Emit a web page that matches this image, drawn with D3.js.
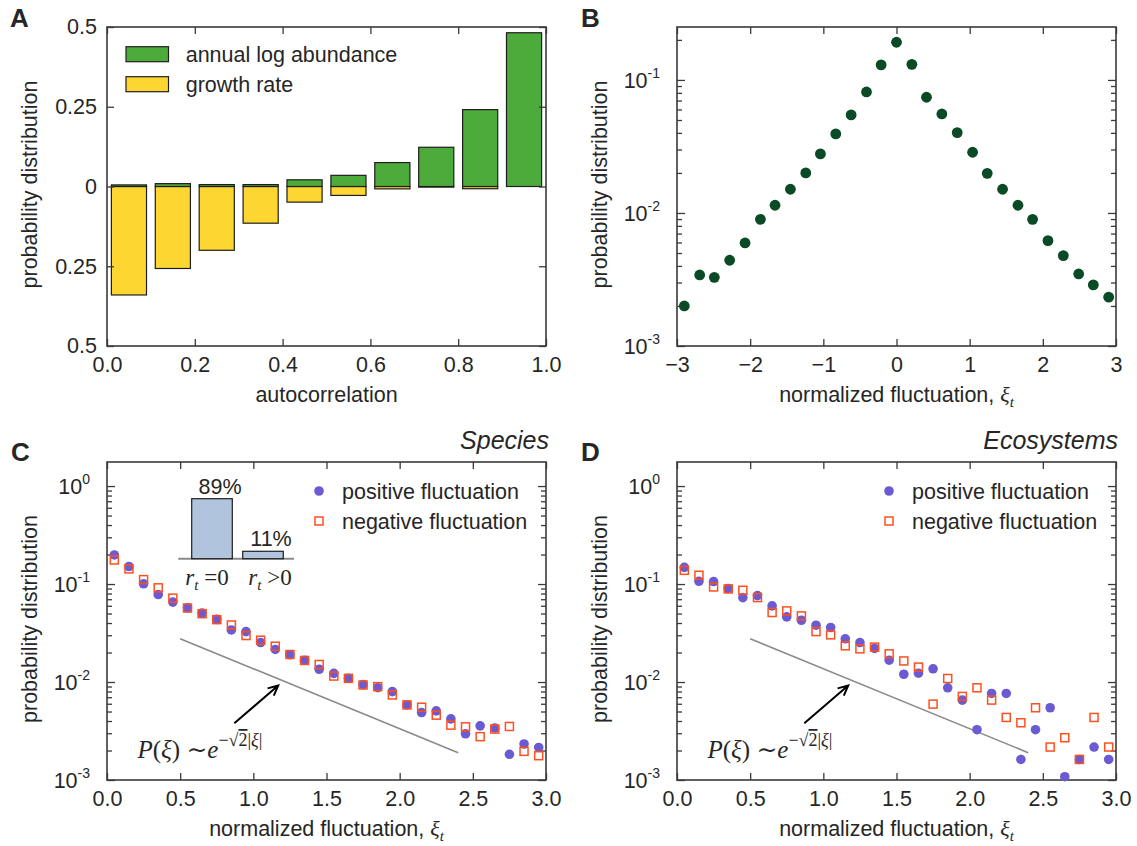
<!DOCTYPE html>
<html><head><meta charset="utf-8">
<script src="https://cdn.jsdelivr.net/npm/d3@7"></script>
<style>body{margin:0;background:#fff}</style>
</head><body>
<script>
// ---------------- data ----------------
const autocorrBins = [0.05,0.15,0.25,0.35,0.45,0.55,0.65,0.75,0.85,0.95];
const logAbundanceDist = [0.005,0.009,0.006,0.006,0.021,0.035,0.075,0.123,0.241,0.482];
const growthRateDist = [0.34,0.257,0.20,0.115,0.049,0.028,0.0075,0.002,0.007,0.0];
const yTicksA = [-0.5,-0.25,0,0.25,0.5];
const yTickLabelsA = ["0.5","0.25","0","0.25","0.5"];
const xTicksA = [0,0.2,0.4,0.6,0.8,1.0];
const xTickLabelsA = ["0.0","0.2","0.4","0.6","0.8","1.0"];
const legendA = ["annual log abundance","growth rate"];

const fluctB = [-2.9,-2.69,-2.49,-2.28,-2.07,-1.86,-1.66,-1.45,-1.24,-1.04,-0.83,-0.62,-0.41,-0.21,0,0.21,0.41,0.62,0.83,1.04,1.24,1.45,1.66,1.86,2.07,2.28,2.49,2.69,2.9];
const probB = [0.0020,0.00342,0.00328,0.00441,0.00595,0.00896,0.01143,0.01507,0.0200,0.0278,0.0393,0.0546,0.0812,0.1297,0.192,0.131,0.0741,0.0555,0.0402,0.0286,0.01986,0.01507,0.01143,0.00896,0.00619,0.00478,0.00348,0.00288,0.00233];
const xTicksB = [-3,-2,-1,0,1,2,3];
const xTickLabelsB = ["\u22123","\u22122","\u22121","0","1","2","3"];
const logExpB = [-3,-2,-1];

const fluctCD = [0.05,0.15,0.25,0.35,0.45,0.55,0.65,0.75,0.85,0.95,1.05,1.15,1.25,1.35,1.45,1.55,1.65,1.75,1.85,1.95,2.05,2.15,2.25,2.35,2.45,2.55,2.65,2.75,2.85,2.95];
const speciesPos = [0.198,0.151,0.1005,0.0782,0.0654,0.0573,0.0506,0.0436,0.0340,0.0327,0.0253,0.0215,0.0190,0.0167,0.0135,0.01225,0.0109,0.0094,0.00875,0.00797,0.00584,0.00488,0.00508,0.00421,0.00296,0.00357,0.00339,0.00183,0.00233,0.00215];
const speciesNeg = [0.176,0.1426,0.111,0.0915,0.0718,0.0569,0.0498,0.0433,0.0382,0.0298,0.0267,0.0232,0.0191,0.0166,0.0151,0.0115,0.0109,0.00933,0.00897,0.00738,0.00584,0.00553,0.00459,0.00363,0.00349,0.00277,0.00331,0.00352,0.00196,0.00177];
const ecoPos = [0.148,0.1067,0.106,0.0898,0.0727,0.0762,0.0598,0.0462,0.0427,0.0380,0.0360,0.0276,0.0253,0.0220,0.0167,0.0120,0.0123,0.01364,0.00873,0.00654,0.00326,0.00764,0.00764,0.00162,0.00326,0.00546,0.00108,0.00162,0.00217,0.00162];
const ecoNeg = [0.138,0.123,0.0934,0.0891,0.0864,0.0727,0.0512,0.0532,0.0473,0.0327,0.0303,0.0234,0.0218,0.0227,0.0194,0.0164,0.0142,0.00595,0.01086,0.00713,0.00873,0.00654,0.00435,0.00384,0.00546,0.00217,0.0027,0.00162,0.00435,0.00217];
const xTicksCD = [0,0.5,1,1.5,2,2.5,3];
const xTickLabelsCD = ["0.0","0.5","1.0","1.5","2.0","2.5","3.0"];
const logExpCD = [-3,-2,-1,0];
const legendCD = ["positive fluctuation","negative fluctuation"];

const insetCats = ["r_t=0","r_t>0"];
const insetVals = [0.89,0.11];
const insetLabels = ["89%","11%"];

const refLineX = [0.5,2.4];
const refLineY = [0.0277,0.0019];
const arrowX = [0.87,1.17];
const arrowY = [0.0038,0.0092];

// ---------------- style ----------------
const W=1137,H=846;
const SANS='"Liberation Sans", Arial, Helvetica, sans-serif';
const SERIF='"Liberation Serif","DejaVu Serif","Times New Roman",serif';
const TXT='#262626', AX='#3a3a3a';
const FS=21.5;
const GREEN='#4dab3c', YELLOW='#fed631', DKGREEN='#0b4a26', PURPLE='#6a5bd3', ORANGE='#ff4f1f';

const svg=d3.select('body').append('svg').attr('width',W).attr('height',H)
  .style('font-family',SANS);

function styleAxis(g){
  g.attr('font-size',null).attr('font-family',null);
  g.select('.domain').remove();
  g.selectAll('line').attr('stroke',AX).attr('stroke-width',1.3);
  g.selectAll('text').attr('fill',TXT).style('font-size',FS+'px').style('font-family',SANS);
}

function frame(x,y,opt){
  const [x0,x1]=x.range(), [y1,y0]=y.range();
  const g=svg.append('g');
  const bx=g.append('g').attr('transform',`translate(0,${y1})`)
    .call(d3.axisBottom(x).tickValues(opt.xTicks).tickSize(-7).tickPadding(11).tickFormat((d,i)=>opt.xLabels[i]));
  styleAxis(bx);
  const tx=g.append('g').attr('transform',`translate(0,${y0})`)
    .call(d3.axisTop(x).tickValues(opt.xTicks).tickSize(-7).tickFormat(''));
  styleAxis(tx);
  if(!opt.log){
    const ly=g.append('g').attr('transform',`translate(${x0},0)`)
      .call(d3.axisLeft(y).tickValues(opt.yTicks).tickSize(-7).tickPadding(10).tickFormat((d,i)=>opt.yLabels[i]));
    styleAxis(ly);
    const ry=g.append('g').attr('transform',`translate(${x1},0)`)
      .call(d3.axisRight(y).tickValues(opt.yTicks).tickSize(-7).tickFormat(''));
    styleAxis(ry);
  } else {
    const dom=y.domain();
    const majors=opt.exps.map(e=>Math.pow(10,e));
    const minors=[];
    for(let e=-4;e<=1;e++) for(let m=2;m<=9;m++){const v=m*Math.pow(10,e); if(v>=dom[0]&&v<=dom[1]) minors.push(v);}
    [[d3.axisLeft,x0],[d3.axisRight,x1]].forEach(([ax,px])=>{
      const a=g.append('g').attr('transform',`translate(${px},0)`).call(ax(y).tickValues(majors).tickSize(-8).tickFormat(''));
      styleAxis(a);
      const b=g.append('g').attr('transform',`translate(${px},0)`).call(ax(y).tickValues(minors).tickSize(-5).tickFormat(''));
      styleAxis(b);
    });
    opt.exps.forEach(e=>{
      const t=g.append('text').attr('x',x0-17).attr('y',y(Math.pow(10,e))).attr('dy','0.36em')
        .attr('text-anchor','end').attr('fill',TXT).style('font-size',FS+'px').text('10');
      t.append('tspan').attr('dy',-9.5).style('font-size','14px').text(String(e));
    });
  }
  g.append('rect').attr('x',x0).attr('y',y0).attr('width',x1-x0).attr('height',y1-y0)
    .attr('fill','none').attr('stroke',AX).attr('stroke-width',1.6);
  // y label
  g.append('text').attr('transform',`translate(${x0-70},${(y0+y1)/2-2}) rotate(-90)`)
    .attr('text-anchor','middle').attr('fill',TXT).style('font-size',FS+'px').text('probability distribution');
  // x label
  const xl=g.append('text').attr('x',(x0+x1)/2).attr('y',y1+56).attr('text-anchor','middle')
    .attr('fill',TXT).style('font-size',FS+'px');
  if(opt.xi){
    xl.append('tspan').text('normalized fluctuation, ');
    xl.append('tspan').style('font-family',SERIF).style('font-style','italic').style('font-size','22px').text('\u03BE');
    xl.append('tspan').style('font-family',SERIF).style('font-style','italic').style('font-size','15px').attr('dy',5).text('t');
  } else xl.text(opt.xLabel);
  return g;
}

function panelLabel(t,x,y){
  svg.append('text').attr('x',x).attr('y',y).attr('fill',TXT).style('font-size','26px').style('font-weight','bold').text(t);
}

// ---------------- Panel A ----------------
{
  const x=d3.scaleLinear().domain([0,1]).range([107,546]);
  const y=d3.scaleLinear().domain([-0.5,0.5]).range([346,27]);
  const bw=0.08;
  const g=svg.append('g');
  g.selectAll('rect.gr').data(autocorrBins).join('rect')
    .attr('x',d=>x(d-bw/2)).attr('width',d=>x(d+bw/2)-x(d-bw/2))
    .attr('y',y(0)).attr('height',(d,i)=>y(-growthRateDist[i])-y(0))
    .attr('fill',YELLOW).attr('stroke','#1e1e1e').attr('stroke-width',1.2);
  g.selectAll('rect.ab').data(autocorrBins).join('rect')
    .attr('x',d=>x(d-bw/2)).attr('width',d=>x(d+bw/2)-x(d-bw/2))
    .attr('y',(d,i)=>y(logAbundanceDist[i])).attr('height',(d,i)=>y(0)-y(logAbundanceDist[i]))
    .attr('fill',GREEN).attr('stroke','#1e1e1e').attr('stroke-width',1.2);
  frame(x,y,{xTicks:xTicksA,xLabels:xTickLabelsA,yTicks:yTicksA,yLabels:yTickLabelsA,xLabel:'autocorrelation'});
  const lg=svg.append('g');
  [GREEN,YELLOW].forEach((c,i)=>{
    lg.append('rect').attr('x',126).attr('y',46.7+30*i).attr('width',42.5).attr('height',15)
      .attr('fill',c).attr('stroke','#1e1e1e').attr('stroke-width',1.2);
    lg.append('text').attr('x',185.7).attr('y',54.2+30*i).attr('dy','0.35em').attr('fill',TXT)
      .style('font-size',FS+'px').text(legendA[i]);
  });
  panelLabel('A',10,27);
}

// ---------------- Panel B ----------------
{
  const x=d3.scaleLinear().domain([-3,3]).range([677,1116]);
  const y=d3.scaleLog().domain([1e-3,0.25]).range([346,27]);
  frame(x,y,{xTicks:xTicksB,xLabels:xTickLabelsB,log:true,exps:logExpB,xi:true});
  svg.append('g').selectAll('circle').data(fluctB).join('circle')
    .attr('cx',d=>x(d)).attr('cy',(d,i)=>y(probB[i])).attr('r',5.4).attr('fill',DKGREEN);
  panelLabel('B',581,27);
}

// ---------------- Panels C & D ----------------
function fluctPanel(x0,x1,pos,neg,title,titleX,label,labelX,inset){
  const x=d3.scaleLinear().domain([0,3]).range([x0,x1]);
  const y=d3.scaleLog().domain([1e-3,1.76]).range([780,462]);
  frame(x,y,{xTicks:xTicksCD,xLabels:xTickLabelsCD,log:true,exps:logExpCD,xi:true});
  // reference line
  svg.append('path').datum(refLineX.map((v,i)=>[v,refLineY[i]]))
    .attr('d',d3.line().x(d=>x(d[0])).y(d=>y(d[1])))
    .attr('fill','none').attr('stroke','#8a8a8a').attr('stroke-width',1.6);
  // arrow
  const ax0=x(arrowX[0]),ay0=y(arrowY[0]),ax1=x(arrowX[1]),ay1=y(arrowY[1]);
  const ang=Math.atan2(ay1-ay0,ax1-ax0), L=11, sp=0.45;
  svg.append('path').attr('d',`M${ax0},${ay0}L${ax1},${ay1}M${ax1-L*Math.cos(ang-sp)},${ay1-L*Math.sin(ang-sp)}L${ax1},${ay1}L${ax1-L*Math.cos(ang+sp)},${ay1-L*Math.sin(ang+sp)}`)
    .attr('fill','none').attr('stroke','#000').attr('stroke-width',2);
  // formula
  const f=svg.append('text').attr('x',x0+30.5).attr('y',758).attr('fill',TXT)
    .style('font-family',SERIF).style('font-size','25px');
  f.append('tspan').style('font-style','italic').text('P');
  f.append('tspan').text('(');
  f.append('tspan').style('font-style','italic').text('\u03BE');
  f.append('tspan').text(') \u223C');
  f.append('tspan').style('font-style','italic').text('e');
  f.append('tspan').attr('dy',-12).style('font-size','18px').text('\u2212\u221A');
  f.append('tspan').style('font-size','18px').style('text-decoration','overline').text('2');
  f.append('tspan').style('font-size','18px').text('|');
  f.append('tspan').style('font-size','18px').style('font-style','italic').text('\u03BE');
  f.append('tspan').style('font-size','18px').text('|');
  // points
  svg.append('g').selectAll('circle').data(fluctCD).join('circle')
    .attr('cx',d=>x(d)).attr('cy',(d,i)=>y(pos[i])).attr('r',4.8).attr('fill',PURPLE);
  const s=8;
  svg.append('g').selectAll('rect').data(fluctCD).join('rect')
    .attr('x',d=>x(d)-s/2).attr('y',(d,i)=>y(neg[i])-s/2).attr('width',s).attr('height',s)
    .attr('fill','none').attr('stroke',ORANGE).attr('stroke-width',1.5);
  // legend
  const lx=x0+212;
  svg.append('circle').attr('cx',lx).attr('cy',491).attr('r',4.8).attr('fill',PURPLE);
  svg.append('rect').attr('x',lx-s/2).attr('y',521-s/2).attr('width',s).attr('height',s)
    .attr('fill','none').attr('stroke',ORANGE).attr('stroke-width',1.5);
  legendCD.forEach((t,i)=>svg.append('text').attr('x',lx+23).attr('y',491+30*i).attr('dy','0.35em')
    .attr('fill',TXT).style('font-size',FS+'px').text(t));
  // title
  svg.append('text').attr('x',titleX).attr('y',449).attr('text-anchor','end').attr('fill',TXT)
    .style('font-size','25px').style('font-style','italic').text(title);
  panelLabel(label,labelX,461);
  if(inset){
    const bx=d3.scaleBand().domain(insetCats).range([191.7,283.3]).paddingInner(0.204);
    const by=d3.scaleLinear().domain([0,0.89]).range([558.7,498.7]);
    svg.append('line').attr('x1',178.3).attr('x2',294).attr('y1',by(0)).attr('y2',by(0))
      .attr('stroke','#8a8a8a').attr('stroke-width',2);
    svg.append('g').selectAll('rect').data(insetCats).join('rect')
      .attr('x',d=>bx(d)).attr('width',bx.bandwidth()).attr('y',(d,i)=>by(insetVals[i]))
      .attr('height',(d,i)=>by(0)-by(insetVals[i]))
      .attr('fill','#b0c4de').attr('stroke','#1e1e1e').attr('stroke-width',1.2);
    svg.append('g').selectAll('text').data(insetCats).join('text')
      .attr('x',d=>bx(d)+bx.bandwidth()/2+8).attr('y',(d,i)=>by(insetVals[i])-5)
      .attr('text-anchor','middle').attr('fill',TXT).style('font-size',FS+'px').text((d,i)=>insetLabels[i]);
    const ops=['=0','>0'];
    insetCats.forEach((c,i)=>{
      const t=svg.append('text').attr('x',bx(c)+bx.bandwidth()/2+(i?7:-5)).attr('y',585).attr('text-anchor','middle')
        .attr('fill',TXT).style('font-family',SERIF).style('font-size','23px');
      t.append('tspan').style('font-style','italic').text('r');
      t.append('tspan').style('font-style','italic').style('font-size','15px').attr('dy',5).text('t');
      t.append('tspan').attr('dy',-5).text(' '+ops[i]);
    });
  }
}
fluctPanel(107,546,speciesPos,speciesNeg,'Species',549,'C',11,true);
fluctPanel(677,1116,ecoPos,ecoNeg,'Ecosystems',1118,'D',581,false);
</script>
</body></html>
